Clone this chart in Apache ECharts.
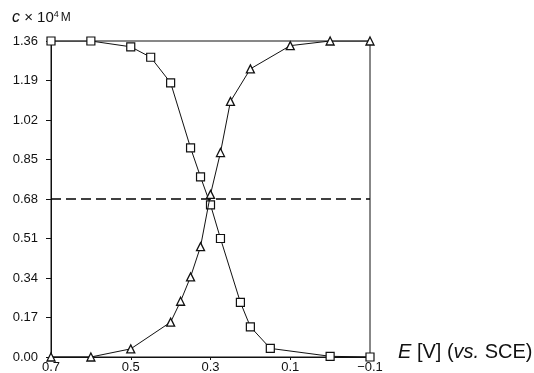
<!DOCTYPE html>
<html>
<head>
<meta charset="utf-8">
<script src="https://cdn.jsdelivr.net/npm/echarts@6/dist/echarts.min.js"></script>
<style>html,body{margin:0;padding:0;background:#fff;}#c{width:534px;height:373px;}</style>
</head>
<body>
<div id="c"></div>
<script>
// Squares (decreasing curve)
const squareE = [0.7, 0.6, 0.5, 0.45, 0.4, 0.35, 0.325, 0.30, 0.275, 0.225, 0.20, 0.15, 0.0, -0.1];
const squareC = [1.36, 1.36, 1.335, 1.29, 1.18, 0.90, 0.775, 0.655, 0.51, 0.235, 0.13, 0.037, 0.003, 0.0];
// Triangles (increasing curve)
const triE = [0.7, 0.6, 0.5, 0.4, 0.375, 0.35, 0.325, 0.30, 0.275, 0.25, 0.20, 0.1, 0.0, -0.1];
const triC = [0.0, 0.0, 0.035, 0.15, 0.24, 0.345, 0.475, 0.70, 0.88, 1.10, 1.24, 1.34, 1.36, 1.36];
// Dashed reference level
const halfLevel = 0.68;
// Tick labels
const xTicks = [0.7, 0.5, 0.3, 0.1, -0.1];
const yTicks = [0.00, 0.17, 0.34, 0.51, 0.68, 0.85, 1.02, 1.19, 1.36];

const chart = echarts.init(document.getElementById('c'));
const font = '"Liberation Sans", Arial, sans-serif';
const zip = (a, b) => a.map((v, i) => [v, b[i]]);

chart.setOption({
  animation: false,
  title: {
    left: 7, top: 5,
    text: '{i|c} × 10{s|4}{m|M}',
    textStyle: {
      rich: {
        i: {fontStyle: 'italic', fontSize: 16, fontFamily: font, color: '#111'},
        s: {fontSize: 9, fontFamily: font, color: '#111', verticalAlign: 'top', padding: [0, 2, 7, 0]},
        m: {fontSize: 12, fontFamily: font, color: '#111'}
      },
      fontSize: 15, fontFamily: font, color: '#111', fontWeight: 'normal'
    }
  },
  grid: {left: 51, right: 164, top: 41, bottom: 16, show: true, borderColor: '#111', borderWidth: 1,
         containLabel: false, outerBoundsMode: 'none'},
  xAxis: {
    type: 'value', inverse: true, min: -0.1, max: 0.7,
    axisLine: {onZero: false, lineStyle: {color: '#111', width: 1}},
    axisTick: {show: true, length: 3, customValues: xTicks, lineStyle: {color: '#111'}},
    axisLabel: {customValues: xTicks, margin: 4, fontSize: 13, fontFamily: font, color: '#111',
      formatter: v => (v < 0 ? '−' : '') + Math.abs(v).toFixed(1)},
    splitLine: {show: false},
    name: '{i|E} [V] ({i|vs.} SCE)',
    nameLocation: 'start', nameGap: 28,
    nameTextStyle: {
      fontSize: 20, fontFamily: font, color: '#111', verticalAlign: 'bottom', padding: [0, 0, -5, 0],
      rich: {i: {fontStyle: 'italic', fontSize: 20, fontFamily: font, color: '#111'}}
    }
  },
  yAxis: {
    type: 'value', min: 0, max: 1.36, interval: 0.17,
    axisLine: {show: true, onZero: false, lineStyle: {color: '#111', width: 1}},
    axisTick: {show: true, length: 5, lineStyle: {color: '#111'}},
    axisLabel: {margin: 13, fontSize: 13, fontFamily: font, color: '#111', formatter: v => v.toFixed(2)},
    splitLine: {show: false}
  },
  series: [
    {
      type: 'line', data: zip(squareE, squareC),
      symbol: 'rect', symbolSize: 8,
      lineStyle: {color: '#111', width: 1},
      itemStyle: {color: '#fff', borderColor: '#111', borderWidth: 1.2},
      z: 3
    },
    {
      type: 'line', data: zip(triE, triC),
      symbol: 'triangle', symbolSize: 8,
      lineStyle: {color: '#111', width: 1},
      itemStyle: {color: '#fff', borderColor: '#111', borderWidth: 1.3},
      z: 4
    },
    {
      type: 'line', data: [[0.7, halfLevel], [-0.1, halfLevel]],
      symbol: 'none',
      lineStyle: {color: '#000', width: 1.4, type: [10, 5]},
      z: 2
    }
  ]
});
</script>
</body>
</html>
